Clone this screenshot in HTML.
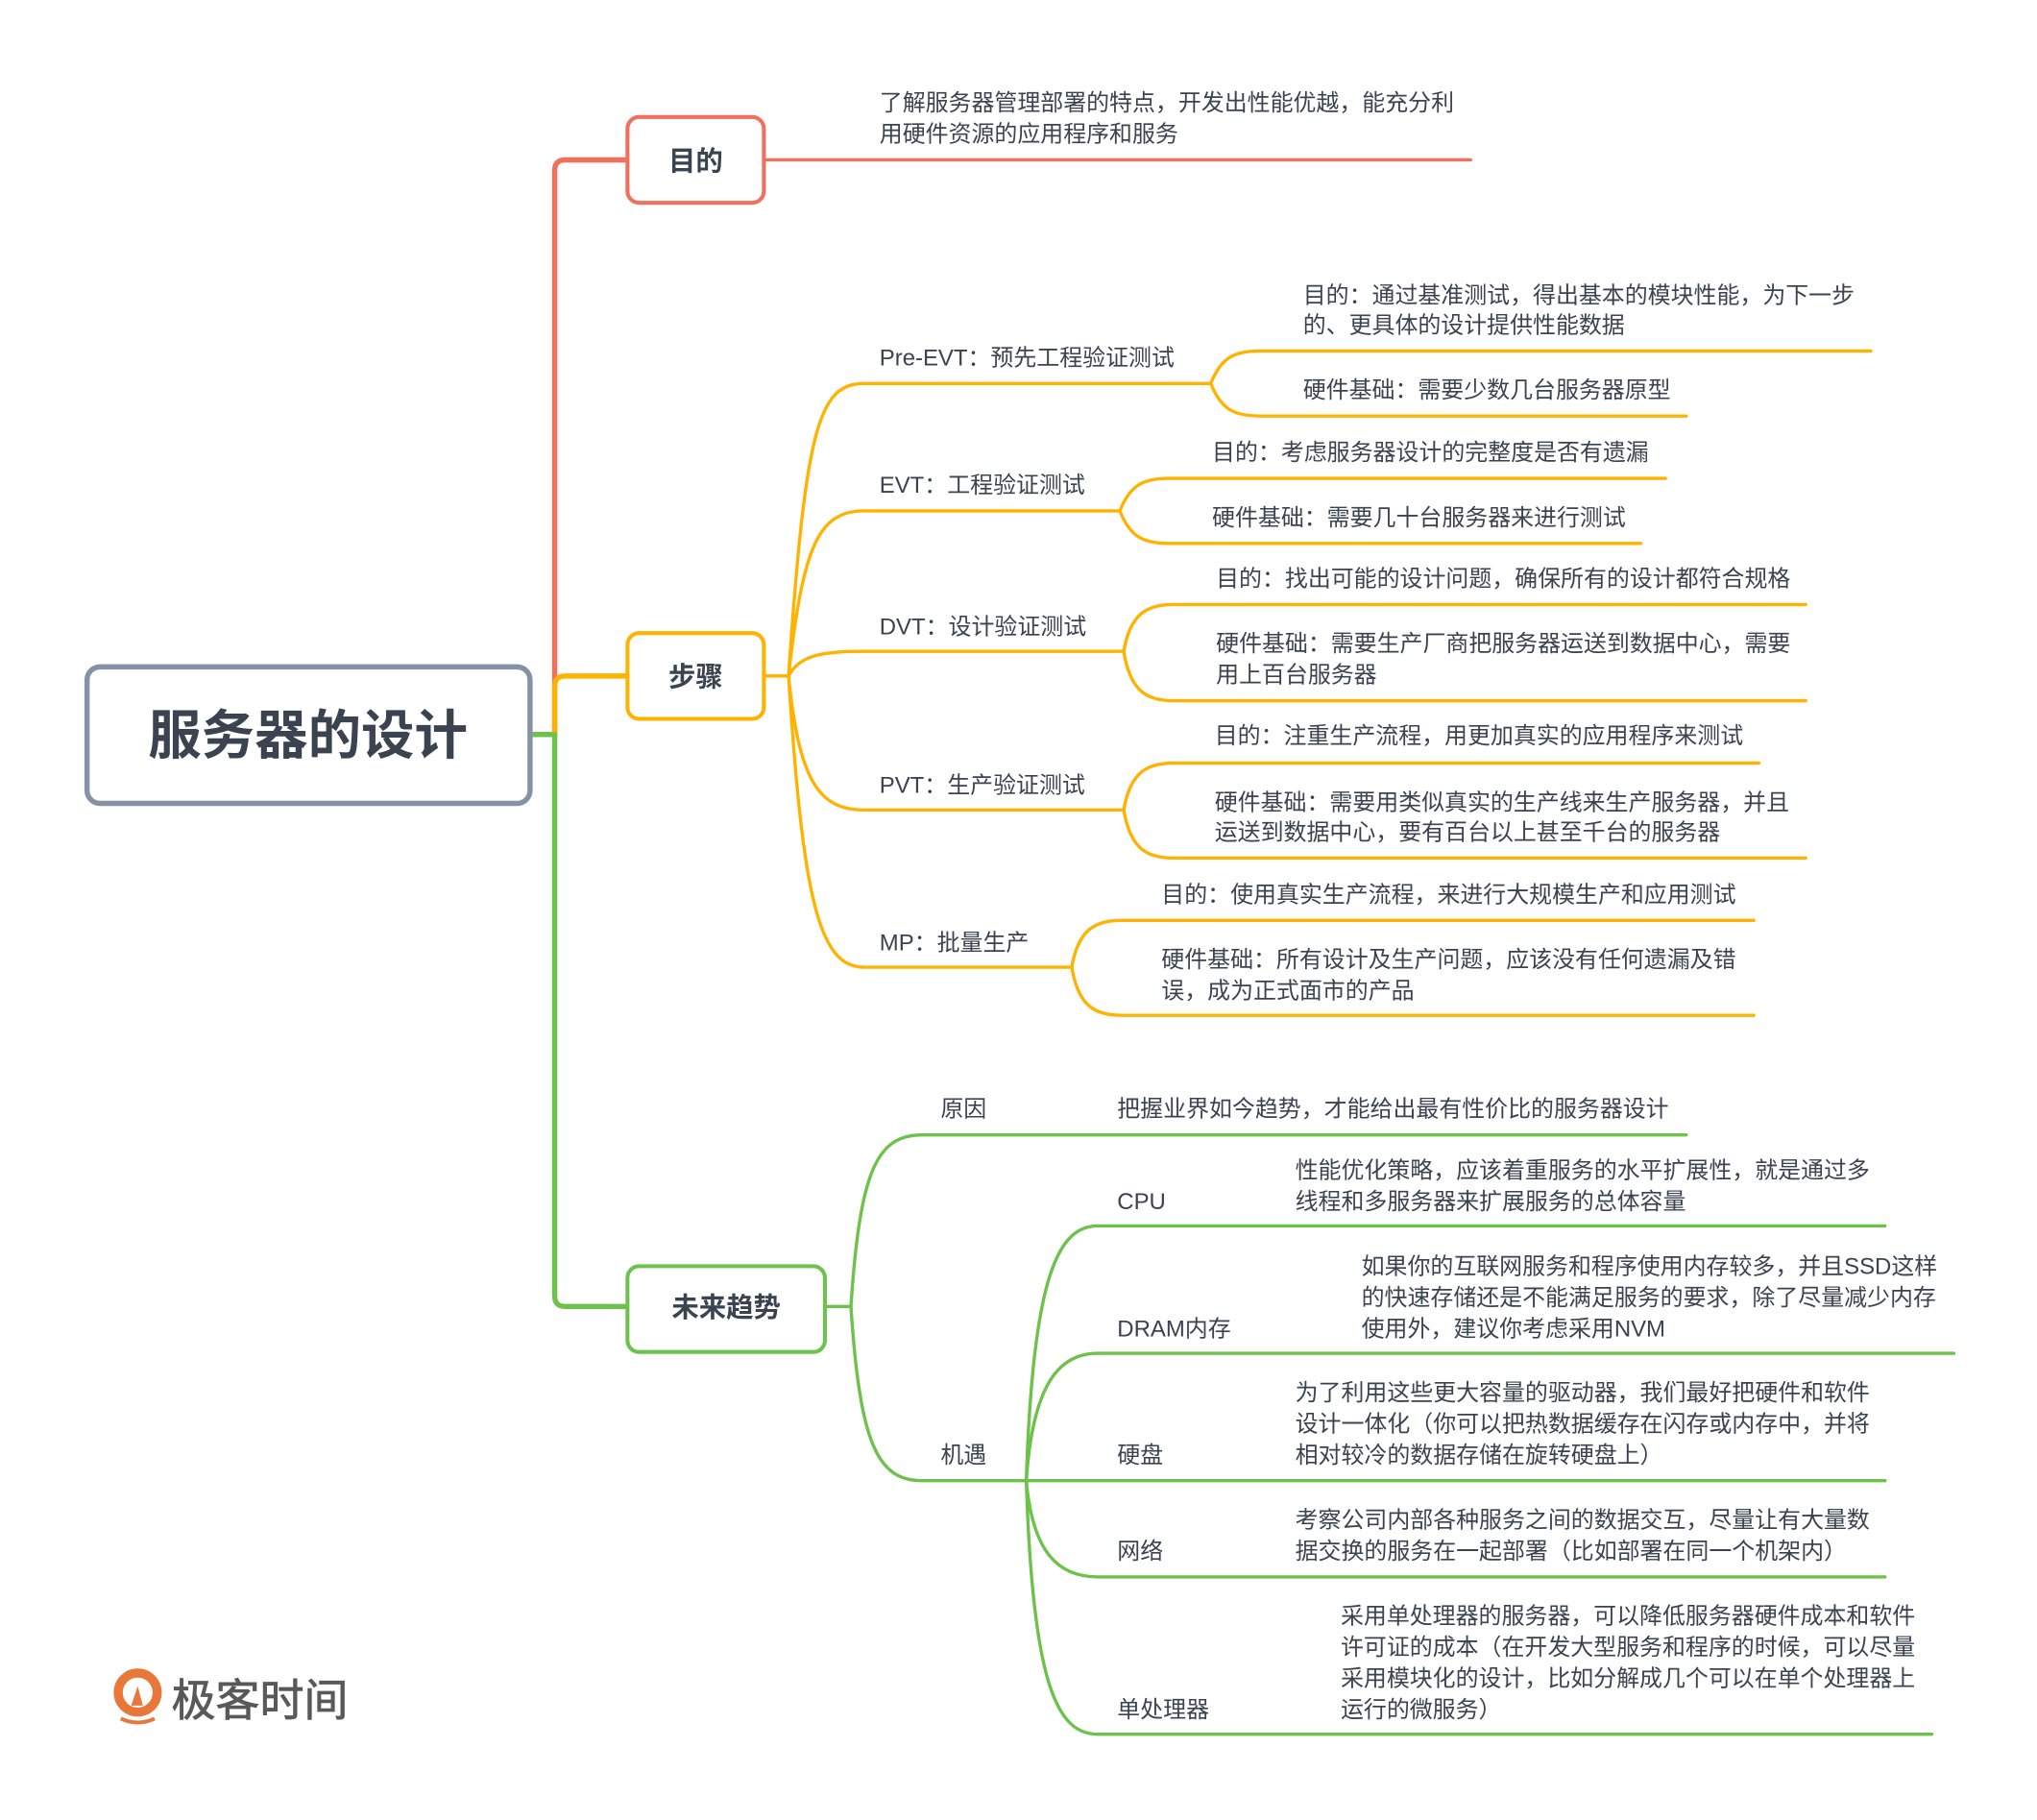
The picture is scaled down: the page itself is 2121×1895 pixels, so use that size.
<!DOCTYPE html>
<html><head><meta charset="utf-8"><style>
html,body{margin:0;padding:0;background:#fff;}
svg{display:block;}
text{font-family:"Liberation Sans","Noto Sans CJK SC",sans-serif;fill:#3b4350;}
.t{font-size:17.7px;}
.b{font-weight:bold;}
</style></head><body>
<svg width="2121" height="1895" viewBox="0 0 1568 1400" preserveAspectRatio="none" xmlns="http://www.w3.org/2000/svg">
<rect width="1568" height="1400" fill="#fff"/>
<g fill="none" stroke-linecap="round">
<path d="M408 565 H427" stroke="#6cc24a" stroke-width="4"/>
<path d="M427 565 V131 Q427 123 435 123 H483" stroke="#f46e5b" stroke-width="4"/>
<path d="M588 123 H1132" stroke="#f46e5b" stroke-width="2.5"/>
<path d="M427 565 V528 Q427 520 435 520 H483" stroke="#ffb300" stroke-width="4"/>
<path d="M427 565 V997 Q427 1005 435 1005 H483" stroke="#6cc24a" stroke-width="4"/>
<g stroke="#ffb300" stroke-width="2.5">
<path d="M588 520 H607"/>
<path d="M607 520 C620 330 630 295 665 295 H932"/>
<path d="M607 520 C618 420 630 393 665 393 H862"/>
<path d="M607 520 C615 505 630 501 665 501 H865"/>
<path d="M607 520 C615 600 630 623 665 623 H865"/>
<path d="M607 520 C618 690 630 744 665 744 H825"/>
<path d="M932 295 C940 275 950 270 970 270 H1440"/>
<path d="M932 295 C940 315 950 320 970 320 H1298"/>
<path d="M862 393 C870 373 880 368 900 368 H1282"/>
<path d="M862 393 C870 413 880 418 900 418 H1263"/>
<path d="M865 501 C870 472 883 465 903 465 H1390"/>
<path d="M865 501 C870 532 883 539 903 539 H1390"/>
<path d="M865 623 C870 594 883 587 903 587 H1354"/>
<path d="M865 623 C870 653 883 660 903 660 H1390"/>
<path d="M825 744 C830 715 843 708 863 708 H1350"/>
<path d="M825 744 C830 774 843 781 863 781 H1350"/>
</g>
<g stroke="#6cc24a" stroke-width="2.5">
<path d="M635 1005 H655"/>
<path d="M655 1005 C662 900 675 873 710 873 H1298"/>
<path d="M655 1005 C662 1110 675 1139 710 1139 H790"/>
<path d="M790 1139 C795 980 815 943 845 943 H1451"/>
<path d="M790 1139 C795 1065 815 1041 845 1041 H1504"/>
<path d="M790 1139 H1451"/>
<path d="M790 1139 C795 1195 815 1213 845 1213 H1451"/>
<path d="M790 1139 C795 1300 815 1334 845 1334 H1487"/>
</g>
</g>
<rect x="67" y="513" width="341" height="105" rx="10" fill="#fff" stroke="#8592a6" stroke-width="4"/>
<text x="237" y="580" font-size="41" class="b" text-anchor="middle">服务器的设计</text>
<rect x="483" y="90" width="105" height="66" rx="9" fill="#fff" stroke="#f46e5b" stroke-width="3"/>
<text x="535.5" y="131" font-size="21" class="b" text-anchor="middle">目的</text>
<rect x="483" y="487" width="105" height="66" rx="9" fill="#fff" stroke="#ffb300" stroke-width="3"/>
<text x="535.5" y="528" font-size="21" class="b" text-anchor="middle">步骤</text>
<rect x="483" y="974" width="152" height="66" rx="9" fill="#fff" stroke="#6cc24a" stroke-width="3"/>
<text x="559" y="1013" font-size="21" class="b" text-anchor="middle">未来趋势</text>
<g class="t">
<text x="677" y="85">了解服务器管理部署的特点，开发出性能优越，能充分利</text>
<text x="677" y="109">用硬件资源的应用程序和服务</text>
<text x="677" y="281">Pre-EVT：预先工程验证测试</text>
<text x="1003" y="233">目的：通过基准测试，得出基本的模块性能，为下一步</text>
<text x="1003" y="256">的、更具体的设计提供性能数据</text>
<text x="1003" y="306">硬件基础：需要少数几台服务器原型</text>
<text x="677" y="379">EVT：工程验证测试</text>
<text x="933" y="354">目的：考虑服务器设计的完整度是否有遗漏</text>
<text x="933" y="404">硬件基础：需要几十台服务器来进行测试</text>
<text x="677" y="488">DVT：设计验证测试</text>
<text x="936" y="451">目的：找出可能的设计问题，确保所有的设计都符合规格</text>
<text x="936" y="501">硬件基础：需要生产厂商把服务器运送到数据中心，需要</text>
<text x="936" y="525">用上百台服务器</text>
<text x="677" y="610">PVT：生产验证测试</text>
<text x="935" y="572">目的：注重生产流程，用更加真实的应用程序来测试</text>
<text x="935" y="623">硬件基础：需要用类似真实的生产线来生产服务器，并且</text>
<text x="935" y="646">运送到数据中心，要有百台以上甚至千台的服务器</text>
<text x="677" y="731">MP：批量生产</text>
<text x="894" y="694">目的：使用真实生产流程，来进行大规模生产和应用测试</text>
<text x="894" y="744">硬件基础：所有设计及生产问题，应该没有任何遗漏及错</text>
<text x="894" y="768">误，成为正式面市的产品</text>
<text x="724" y="859">原因</text>
<text x="860" y="859">把握业界如今趋势，才能给出最有性价比的服务器设计</text>
<text x="724" y="1125">机遇</text>
<text x="860" y="930">CPU</text>
<text x="997" y="906">性能优化策略，应该着重服务的水平扩展性，就是通过多</text>
<text x="997" y="930">线程和多服务器来扩展服务的总体容量</text>
<text x="860" y="1028">DRAM内存</text>
<text x="1048" y="980">如果你的互联网服务和程序使用内存较多，并且SSD这样</text>
<text x="1048" y="1004">的快速存储还是不能满足服务的要求，除了尽量减少内存</text>
<text x="1048" y="1028">使用外，建议你考虑采用NVM</text>
<text x="860" y="1125">硬盘</text>
<text x="997" y="1077">为了利用这些更大容量的驱动器，我们最好把硬件和软件</text>
<text x="997" y="1101">设计一体化（你可以把热数据缓存在闪存或内存中，并将</text>
<text x="997" y="1125">相对较冷的数据存储在旋转硬盘上）</text>
<text x="860" y="1199">网络</text>
<text x="997" y="1175">考察公司内部各种服务之间的数据交互，尽量让有大量数</text>
<text x="997" y="1199">据交换的服务在一起部署（比如部署在同一个机架内）</text>
<text x="860" y="1321">单处理器</text>
<text x="1032" y="1249">采用单处理器的服务器，可以降低服务器硬件成本和软件</text>
<text x="1032" y="1273">许可证的成本（在开发大型服务和程序的时候，可以尽量</text>
<text x="1032" y="1297">采用模块化的设计，比如分解成几个可以在单个处理器上</text>
<text x="1032" y="1321">运行的微服务）</text>
</g>
<circle cx="106" cy="1302" r="15" fill="none" stroke="#e8773a" stroke-width="7"/>
<path d="M101 1312 L106 1297 L110 1312 Z" fill="#e8773a"/>
<path d="M93 1322 Q106 1328 119 1322" fill="none" stroke="#e8773a" stroke-width="3"/>
<text x="132" y="1320" font-size="34" style="fill:#595959;stroke:#595959;stroke-width:0.6">极客时间</text>
</svg>
</body></html>
